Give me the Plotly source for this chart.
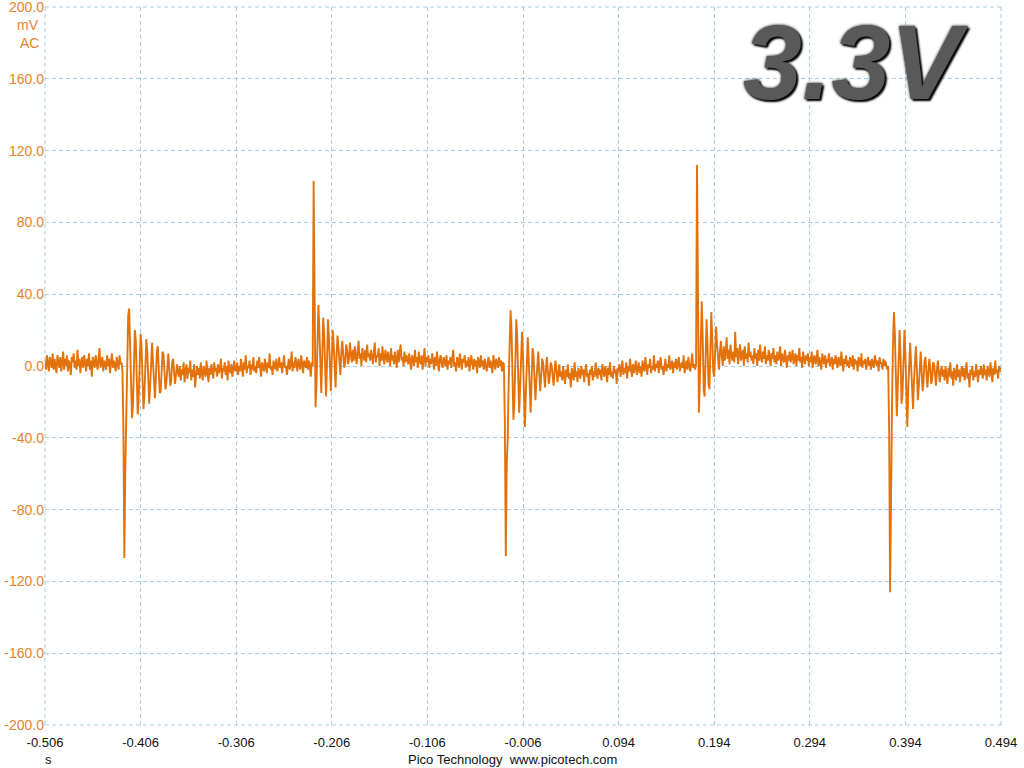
import plotly.graph_objects as go

# ---- axis definitions ----
x_start = -0.506      # s
x_end = 0.494         # s
sample_step = 0.001   # s
x_ticks = [-0.506, -0.406, -0.306, -0.206, -0.106, -0.006, 0.094, 0.194, 0.294, 0.394, 0.494]
x_tick_labels = ["-0.506", "-0.406", "-0.306", "-0.206", "-0.106", "-0.006",
                 "0.094", "0.194", "0.294", "0.394", "0.494"]
y_ticks = [-200, -160, -120, -80, -40, 0, 40, 80, 120, 160, 200]
y_tick_labels = ["-200.0", "-160.0", "-120.0", "-80.0", "-40.0", "0.0",
                 "40.0", "80.0", "120.0", "160.0", "200.0"]

# ---- trace values (mV), one sample per ms ----
seg1 = [3, -2, 6, 0, -3, 5, 2, -1, 7, -2, 4, 1, -4, 6, 3, -1, 5, -3, 2, 8,
        -2, 4, 0, 6, -3, 3, 1, -5, 5, 2, 7, -1, 3, -2, 9, 0, 4, -4, 2, 5,
        -1, 6, 2, -3, 4, 0, 7, -2, 3, -6, 5, 1, -1, 6, 3, -2, 4, 10, -1, 2,
        5, -3, 3, 1, -2, 6, 0, 4, -4, 2, 7, -1, 3, 0, -3, 5, 2, -2, 6, 1]
ev1 = [2, -3, -34, -107, -58, -20, 10, 28, 32, 15, -10, -29, -22, 0, 20, 14, -8, -27, -18, 2,
       18, 10, -10, -24, -16, 3, 15, 8, -12, -21, -11, 5, 13, 2, -14, -18, -6, 8, 11, -2,
       -15, -14, -3, 8, 6, -6, -13, -9, 3, 7, -2, -11, -8, 2, 4, -4, -10, -5, 1, -3]
seg2 = [-6, 0, -8, -2, -5, 2, -9, -3, 1, -7, -1, -4, 3, -8, -2, -6, 1, -12, -3, 0,
        -5, -1, -7, 2, -4, -8, 0, -3, -6, 3, -2, -9, -1, -5, 1, -4, -7, 2, -3, -1,
        -6, 1, -4, -2, 4, -7, -1, -3, 2, -5, 0, -8, 3, -2, -4, 1, -6, -1, 3, -3,
        -2, 2, -5, 0, -3, 4, -1, -6, 2, -2, 6, -4, 0, -1, 3, -5, 1, -2, 5, -3,
        0, -4, 3, -1, 5, -2, -6, 2, 0, -3, 4, 1, -4, 2, -1, 7, -2, 0, -5, 3,
        1, -2, 4, -3, 0, 5, -1, 2, -4, 3, 6, -1, 0, -5, 2, 4, -2, 1, 8, -3,
        2, -1, 5, 0, -3, 4, 1, -2, 6, 0, -4, 3, 2, -1, 5, -2, 3, 0, -6, 2]
ev2 = [0, 103, 52, -23, -10, 15, 34, 20, -5, -15, 5, 27, 18, -6, -17, 2, 26, 16, -4, -14,
       4, 20, 12, -2, -12, 6, 17, 10, 0, -5, 8, 14, 6, -1, 2, 12, 9, 1, 4, 13,
       6, 2, 9, 3, 11, 5, 1, 8, 14, 4, 7, 0, 10, 6, 3, 9, 2, 12, 5, 7]
seg3 = [3, 9, 4, 1, 8, 13, 2, 6, 5, 10, 0, 7, 3, 11, 4, 1, 9, 6, 2, 8,
        5, 0, 10, 3, 6, 1, 8, 4, -1, 9, 2, 7, 12, 3, 5, 0, 8, 2, 6, 4,
        1, 7, 3, -2, 6, 4, 0, 9, 2, 5, -1, 8, 3, 1, 6, -2, 4, 10, 0, 5,
        2, 6, -1, 4, 1, 7, 3, -2, 5, 0, 8, 2, -3, 4, 6, 1, -1, 5, 3, 0,
        6, -2, 3, 1, 5, -1, 4, 9, 0, 2, -3, 5, 3, -1, 7, 1, -2, 4, 2, 6,
        -1, 3, 0, 5, -3, 2, 6, 1, -2, 4, 0, 3, -4, 5, 2, -1, 6, 0, 3, -2,
        4, 1, -3, 2, 5, -1, 3, 0, -4, 6, 1, -2, 4, 2, -1, 5, 0, 3, -3, 2]
ev3 = [1, -31, -106, -54, -41, -10, 15, 31, 20, -5, -30, -20, 5, 26, 15, -10, -26, -12, 10, 19,
       5, -20, -34, -15, 8, 16, 3, -18, -26, -8, 10, 6, -10, -19, -8, 5, 8, -4, -14, -6,
       4, 2, -9, -12, -2, 5, -3, -10, -6, 2, 0, -8, -11, -3, 3, -2, -9, -5, 1, -6]
seg4 = [-3, -8, 0, -5, -10, -2, -6, 1, -7, -4, -12, -1, -5, -8, 2, -6, -3, -9, -1, -4,
        -7, 0, -5, -2, -9, -3, 1, -6, -4, -11, -2, -5, 0, -8, -3, -6, 2, -4, -7, -1,
        -5, -2, -8, 1, -4, -6, 0, -3, -9, -1, -5, 2, -6, -3, -7, 0, -4, -2, -10, -1,
        -3, 1, -6, -2, 3, -5, -1, -4, 2, -7, 0, -3, 4, -2, -6, 1, -4, -1, 3, -5,
        -2, 2, -4, 0, -6, 3, -1, -3, 5, -2, -5, 1, -1, 4, -4, 0, -2, 6, -3, 1,
        -1, 3, -4, 1, 5, -2, 0, -5, 2, 4, -3, 1, -1, 6, -2, 0, 3, -4, 2, -1,
        4, -2, 1, 5, -3, 0, 2, -1, 6, -4, 1, 3, -2, 5, 0, -3, 2, 7, -1, 1]
ev4 = [-2, 1, 112, 40, -26, -8, 20, 36, 15, -13, -17, 5, 26, 12, -10, -13, 8, 30, 15, -3,
       -6, 10, 22, 12, 2, -2, 8, 14, 5, 0, 11, 3, 7, 16, 4, 9, 1, 12, 6, 3,
       8, 2, 19, 5, 10, 1, 7, 12, 3, 6, 9, 0, 11, 4, 7, 2, 13, 5, 8, 3]
seg5 = [6, 1, 10, 4, 7, 0, 9, 3, 12, 5, 2, 8, 4, 11, 1, 6, 3, 9, 5, 0,
        7, 4, 10, 2, 6, 1, 8, 3, 5, 11, 0, 7, 4, 2, 9, 5, -1, 6, 3, 8,
        2, 5, 9, 1, 4, 7, 0, 6, 3, 10, 2, 5, -1, 8, 4, 1, 6, 3, 7, 0,
        5, 2, 8, -1, 4, 6, 1, 3, 9, 0, 5, 2, -2, 7, 3, 1, 6, -1, 4, 2,
        7, 0, 3, 5, -2, 4, 1, 6, 2, -1, 5, 3, 0, 8, 2, -3, 4, 1, 6, 0,
        3, -1, 5, 2, 0, 6, -2, 4, 1, 3, -3, 5, 2, 0, 7, -1, 3, 1, 4, -2,
        2, 5, 0, 3, -2, 4, 1, -1, 6, 2, 0, 3, -3, 5, 1, 2, -2, 4, 0, 3]
ev5 = [1, -2, 0, -36, -126, -62, -20, 12, 30, 18, -8, -28, -12, 10, 20, 5, -21, -15, 8, 20,
       6, -15, -34, -12, 6, 13, 0, -16, -24, -8, 6, 11, -2, -19, -12, 2, 8, -3, -14, -8,
       3, 5, -6, -12, -4, 4, -1, -10, -7, 2, 1, -8, -11, -2, 3, -4, -9, -3, 0, -6]
seg6 = [-2, -8, 0, -5, -10, -1, -6, 2, -7, -3, -11, -1, -5, -8, 1, -6, -2, -9, -4, 0,
        -6, -1, -8, -3, 2, -7, -4, -12, -2, -5, 0, -8, -3, -6, 1, -4, -9, -2, -5, 0,
        -3, -7, 1, -5, -2, -8, 0, -4, -6, 2, -3, -9, -1, -5, 3, -4, -2, -7, 0, -3,
        -1]

voltage_mv = seg1 + ev1 + seg2 + ev2 + seg3 + ev3 + seg4 + ev4 + seg5 + ev5 + seg6
time_s = [x_start + i * sample_step for i in range(len(voltage_mv))]

TRACE = "#E3720C"
LABEL_ORANGE = "#E6822E"
GRID = "#A8CDE2"
GRID_DASH = "4px,3px"

fig = go.Figure()
fig.add_trace(go.Scatter(
    x=time_s, y=voltage_mv, mode="lines",
    line=dict(color=TRACE, width=1.9),
    hoverinfo="skip", showlegend=False,
))

fig.update_layout(
    width=1024, height=768,
    margin=dict(l=45, r=23, t=7, b=43, autoexpand=False),
    paper_bgcolor="white", plot_bgcolor="white",
    font=dict(family="Liberation Sans, Arial, sans-serif", size=13, color="black"),
    xaxis=dict(
        range=[x_start, x_end], tickmode="array", tickvals=x_ticks, ticktext=x_tick_labels,
        showgrid=True, gridcolor=GRID, gridwidth=1, griddash=GRID_DASH,
        zeroline=False, showline=False, ticks="", automargin=False,
        ticklabelstandoff=8, ticklabeloverflow="allow",
        tickfont=dict(size=13, color="#111111"),
    ),
    yaxis=dict(
        range=[-200, 200], tickmode="array", tickvals=y_ticks, ticktext=y_tick_labels,
        showgrid=True, gridcolor=GRID, gridwidth=1, griddash=GRID_DASH,
        zeroline=False, showline=False, ticks="", automargin=False,
        ticklabeloverflow="allow",
        tickfont=dict(size=14, color=LABEL_ORANGE),
    ),
)

# dashed frame at the plot edges (grid lines at the range ends)
frame = dict(color=GRID, width=1, dash=GRID_DASH)
fig.add_shape(type="line", xref="paper", yref="paper", x0=0, x1=1, y0=1, y1=1, line=frame, layer="below")
fig.add_shape(type="line", xref="paper", yref="paper", x0=0, x1=1, y0=0, y1=0, line=frame, layer="below")
fig.add_shape(type="line", xref="paper", yref="paper", x0=0, x1=0, y0=0, y1=1, line=frame, layer="below")
fig.add_shape(type="line", xref="paper", yref="paper", x0=1, x1=1, y0=0, y1=1, line=frame, layer="below")

fig.add_annotation(text="mV", xref="paper", yref="paper", x=0, y=0.975,
                   xanchor="right", yanchor="middle", xshift=-4, showarrow=False,
                   font=dict(size=14, color=LABEL_ORANGE))
fig.add_annotation(text="AC", xref="paper", yref="paper", x=0, y=0.950,
                   xanchor="right", yanchor="middle", xshift=-4, showarrow=False,
                   font=dict(size=14, color=LABEL_ORANGE))
fig.add_annotation(text="s", xref="paper", yref="paper", x=0.004, y=-0.0487,
                   xanchor="center", yanchor="middle", showarrow=False,
                   font=dict(size=13, color="#111111"))
fig.add_annotation(text="Pico Technology  www.picotech.com", xref="paper", yref="paper",
                   x=0.4885, y=-0.0487, xanchor="center", yanchor="middle", showarrow=False,
                   font=dict(size=13, color="#111111"))
fig.add_annotation(text="3.3V", xref="paper", yref="paper", x=0.848, y=0.923,
                   xanchor="center", yanchor="middle", showarrow=False,
                   font=dict(family="Liberation Sans, Arial, sans-serif", size=106,
                             color="#595959", style="italic", weight="bold",
                             shadow="0px 0px 3px #000000, 2px 2px 2px #000000"))

fig.write_html("out.html", config={"displayModeBar": False},
               post_script="document.body.style.margin='0px';document.body.style.overflow='hidden';")
